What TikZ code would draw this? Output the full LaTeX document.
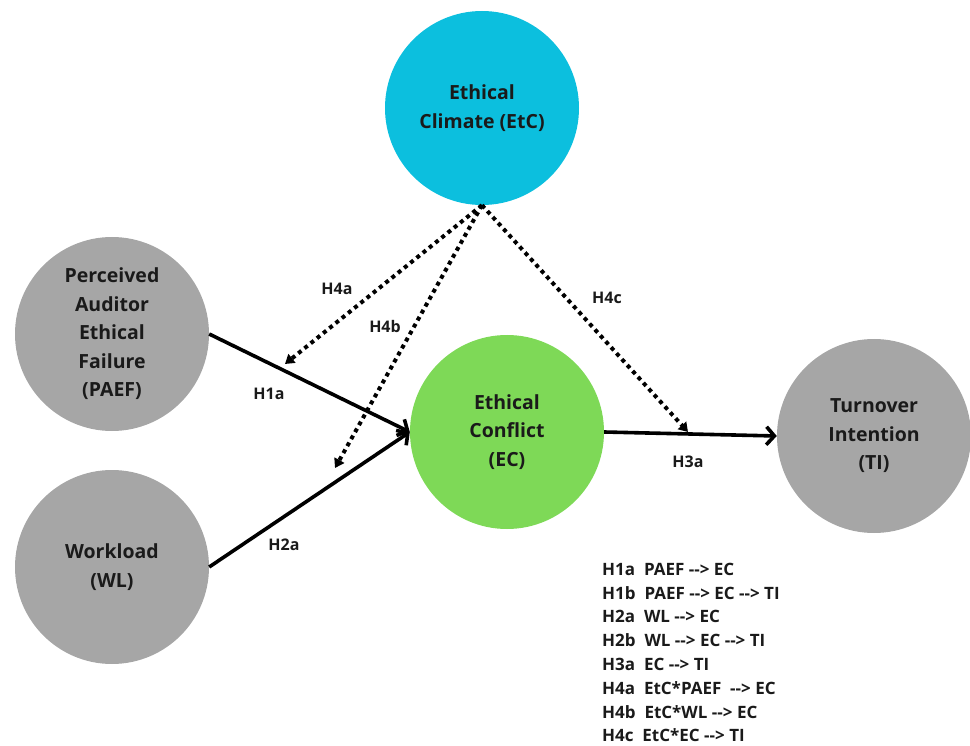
\documentclass[tikz,border=0pt]{standalone}
\usepackage{fontspec}
\setmainfont{Open Sans}
\usetikzlibrary{arrows.meta,calc}
\definecolor{cyanc}{HTML}{0CBFDE}
\definecolor{greenc}{HTML}{7ED957}
\definecolor{grayc}{HTML}{A6A6A6}
\definecolor{txt}{HTML}{1A1A1A}
\newcommand{\arw}{-{}->}
\begin{document}
\begin{tikzpicture}[x=1pt,y=-1pt,
  circ/.style={circle,minimum size=194pt,inner sep=0pt,align=center,text=txt,
    font=\fontsize{19.5}{28.5}\selectfont\bfseries},
  solidarrow/.style={line width=3.6pt,draw=black,
    -{Straight Barb[length=8pt,width=18pt,line width=3.6pt]}},
  dotarrow/.style={line width=4pt,dash pattern=on 4pt off 4pt,
    -{Triangle[length=9pt,width=11pt]}},
  lab/.style={font=\fontsize{16}{18}\selectfont\bfseries,text=txt},
  leg/.style={anchor=base west,font=\fontsize{17}{20}\selectfont\bfseries,text=txt,inner sep=0pt}]
\useasboundingbox (0,0) rectangle (970,746);

\node[circ,fill=cyanc] (etc) at (482,108) {Ethical\\Climate (EtC)};
\node[circ,fill=grayc] (paef) at (112,334) {Perceived\\Auditor\\Ethical\\Failure\\(PAEF)};
\node[circ,fill=grayc] (wl) at (112,567) {Workload\\(WL)};
\node[circ,fill=greenc] (ec) at (507,432) {Ethical\\Conflict\\(EC)};
\node[circ,fill=grayc] (ti) at (874,436) {Turnover\\Intention\\(TI)};

\coordinate (t4a) at (285,364);
\coordinate (t4b) at (335,468);
\coordinate (t4c) at (688,432);

\draw[solidarrow] (paef.east) -- (ec.west);
\draw[solidarrow] (wl.east) -- (ec.west);
\draw[solidarrow] (ec.east) -- (ti.west);

\draw[dotarrow] (etc.south) -- (t4a);
\draw[dotarrow] (etc.south) -- (t4b);
\draw[dotarrow] (etc.south) -- (t4c);

\node[lab] (h4a) at (337,289) {H4a};
\node[lab] (h4b) at (385,326) {H4b};
\node[lab] (h4c) at (607,298) {H4c};
\node[lab] (h1a) at (269,394) {H1a};
\node[lab] (h2a) at (284,545) {H2a};
\node[lab] (h3a) at (688,462) {H3a};

\node[leg] (l1) at (602,575) {H1a\ \ PAEF \arw{} EC};
\node[leg] (l2) at (602,599) {H1b\ \ PAEF \arw{} EC \arw{} TI};
\node[leg] (l3) at (602,622) {H2a\ \ WL \arw{} EC};
\node[leg] (l4) at (602,646) {H2b\ \ WL \arw{} EC \arw{} TI};
\node[leg] (l5) at (602,670) {H3a\ \ EC \arw{} TI};
\node[leg] (l6) at (602,694) {H4a\ \ EtC*PAEF\ \ \arw{} EC};
\node[leg] (l7) at (602,718) {H4b\ \ EtC*WL \arw{} EC};
\node[leg] (l8) at (602,741) {H4c\ \ EtC*EC \arw{} TI};
\end{tikzpicture}
\end{document}
